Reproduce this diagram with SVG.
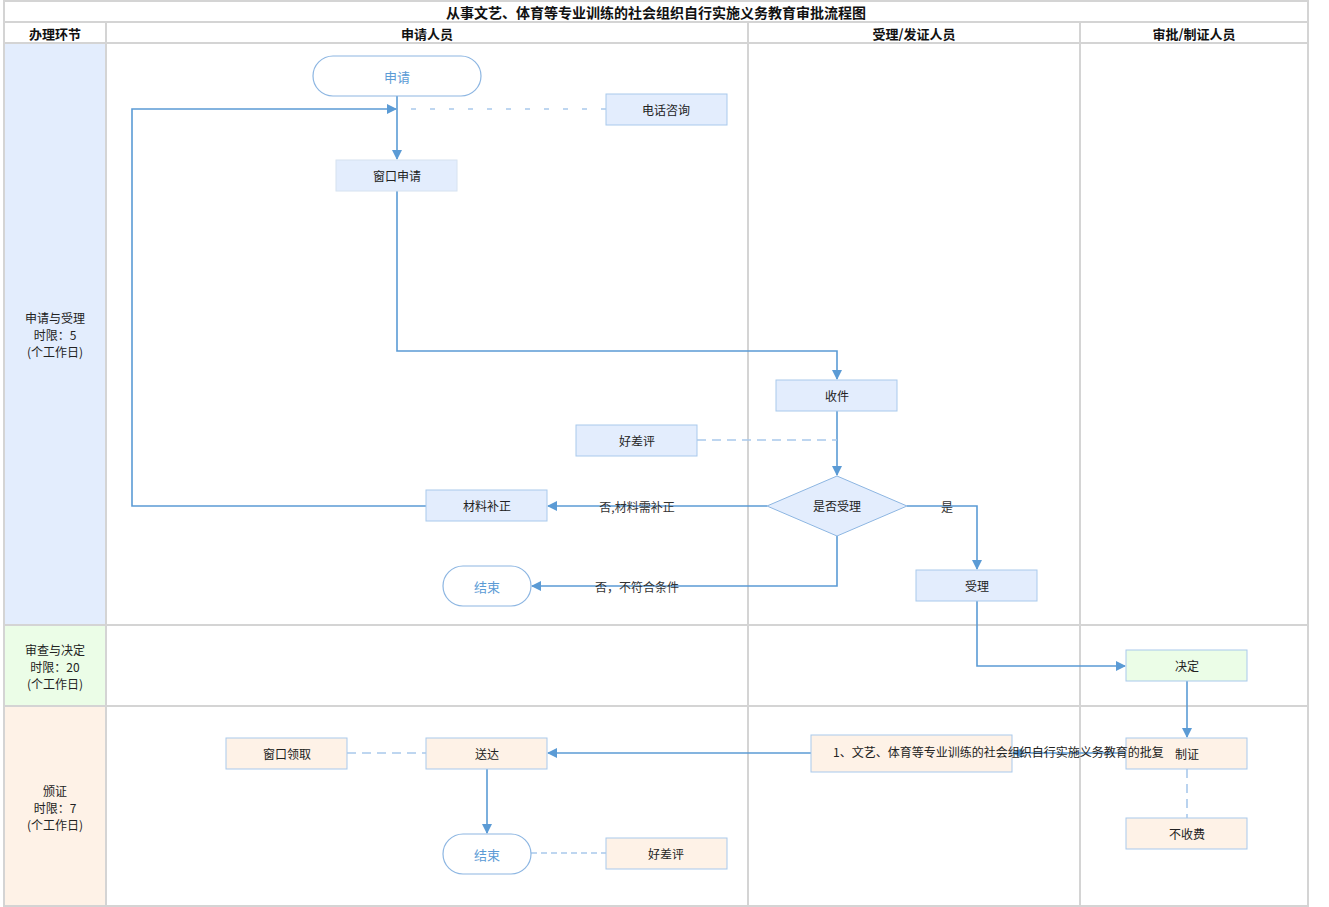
<svg xmlns="http://www.w3.org/2000/svg" width="1329" height="907" viewBox="0 0 1329 907">
<defs>
<marker id="ah" viewBox="0 0 10 10" refX="9" refY="5" markerWidth="10" markerHeight="10" markerUnits="userSpaceOnUse" orient="auto">
<path d="M0,0 L10,5 L0,10 z" fill="#5b9bd5"/>
</marker>
<style>
text{font-family:"Noto Sans CJK SC","Liberation Sans",sans-serif;font-size:12px;fill:#222;dominant-baseline:central;text-anchor:middle}
.grid{stroke:#d4d4d4;stroke-width:2;fill:none}
.hd{font-weight:bold;font-size:13px;fill:#111}
.tt{font-weight:bold;font-size:14px;fill:#111}
.b{fill:#e3edfd;stroke:#a9c9ec;stroke-width:1}
.g{fill:#ebfde7;stroke:#a9c9ec;stroke-width:1}
.o{fill:#fef2e7;stroke:#a9c9ec;stroke-width:1}
.pill{fill:#fff;stroke:#8db6e2;stroke-width:1.2}
.pt{fill:#5b9bd5;font-size:13px}
.ln{stroke:#5b9bd5;stroke-width:1.6;fill:none}
.dl{stroke:#a9c9ec;stroke-width:1.6;fill:none;stroke-dasharray:9,6}
.lb{fill:#333}
</style>
</defs>
<rect x="0" y="0" width="1329" height="907" fill="#fff"/>
<g id="lanes">
<rect x="4" y="43" width="102" height="582" fill="#e3edfd"/>
<rect x="4" y="625" width="102" height="81" fill="#ebfde7"/>
<rect x="4" y="706" width="102" height="200" fill="#fef2e7"/>
<rect class="grid" x="4" y="1" width="1304" height="905"/>
<line class="grid" x1="4" y1="22" x2="1308" y2="22"/>
<line class="grid" x1="4" y1="43" x2="1308" y2="43"/>
<line class="grid" x1="4" y1="625" x2="1308" y2="625"/>
<line class="grid" x1="4" y1="706" x2="1308" y2="706"/>
<line class="grid" x1="106" y1="22" x2="106" y2="906"/>
<line class="grid" x1="748" y1="22" x2="748" y2="906"/>
<line class="grid" x1="1080" y1="22" x2="1080" y2="906"/>
<text class="tt" x="656" y="12">从事文艺、体育等专业训练的社会组织自行实施义务教育审批流程图</text>
<text class="hd" x="55" y="33">办理环节</text>
<text class="hd" x="427" y="33">申请人员</text>
<text class="hd" x="914" y="33">受理/发证人员</text>
<text class="hd" x="1194" y="33">审批/制证人员</text>
<text x="55" y="317">申请与受理</text>
<text x="55" y="334">时限：5</text>
<text x="55" y="351">(个工作日)</text>
<text x="55" y="649">审查与决定</text>
<text x="55" y="666">时限：20</text>
<text x="55" y="683">(个工作日)</text>
<text x="55" y="790">颁证</text>
<text x="55" y="807">时限：7</text>
<text x="55" y="824">(个工作日)</text>
</g>
<g id="connectors">
<path class="dl" d="M606,109 H397" style="stroke-dasharray:5,14"/>
<path class="ln" d="M397,96 V159" marker-end="url(#ah)"/>
<path class="ln" d="M426,506 H132 V109 H396" marker-end="url(#ah)"/>
<path class="ln" d="M397,191 V351 H837 V379" marker-end="url(#ah)"/>
<path class="ln" d="M837,411 V475" marker-end="url(#ah)"/>
<path class="dl" d="M697,440 H837"/>
<path class="ln" d="M767,506 H548" marker-end="url(#ah)"/>
<path class="ln" d="M837,536 V586 H532" marker-end="url(#ah)"/>
<path class="ln" d="M907,506 H977 V569" marker-end="url(#ah)"/>
<path class="ln" d="M977,601 V666 H1125" marker-end="url(#ah)"/>
<path class="ln" d="M1187,681 V737" marker-end="url(#ah)"/>
<path class="ln" d="M1126,753 H1013" marker-end="url(#ah)"/>
<path class="ln" d="M811,753 H548" marker-end="url(#ah)"/>
<path class="dl" d="M347,753 H426"/>
<path class="ln" d="M487,769 V833" marker-end="url(#ah)"/>
<path class="dl" d="M531,853 H606" style="stroke-dasharray:6,4"/>
<path class="dl" d="M1187,769 V818"/>
<text class="lb" x="637" y="506">否,材料需补正</text>
<text class="lb" x="637" y="586">否，不符合条件</text>
<text class="lb" x="947" y="506">是</text>
</g>
<g id="n_apply"><rect class="pill" x="313" y="56" width="168" height="40" rx="20"/><text class="pt" x="397" y="76">申请</text></g>
<g id="n_phone"><rect class="b" x="606" y="94" width="121" height="31"/><text x="666" y="109">电话咨询</text></g>
<g id="n_window"><rect class="b" x="336" y="160" width="121" height="31" style="stroke:#d6e2f0"/><text x="397" y="175">窗口申请</text></g>
<g id="n_receive"><rect class="b" x="776" y="380" width="121" height="31"/><text x="837" y="395">收件</text></g>
<g id="n_eval1"><rect class="b" x="576" y="425" width="121" height="31"/><text x="637" y="440">好差评</text></g>
<g id="n_decide"><path class="b" d="M837,476 L907,506 L837,536 L767,506 z" style="stroke:#8db6e2"/><text x="837" y="505">是否受理</text></g>
<g id="n_supp"><rect class="b" x="426" y="490" width="121" height="31"/><text x="487" y="505">材料补正</text></g>
<g id="n_end1"><rect class="pill" x="443" y="566" width="88" height="40" rx="20"/><text class="pt" x="487" y="586">结束</text></g>
<g id="n_accept"><rect class="b" x="916" y="570" width="121" height="31"/><text x="977" y="585">受理</text></g>
<g id="n_decision"><rect class="g" x="1126" y="650" width="121" height="31"/><text x="1187" y="665">决定</text></g>
<g id="n_make"><rect class="o" x="1126" y="738" width="121" height="31"/><text x="1187" y="753">制证</text></g>
<g id="n_nofee"><rect class="o" x="1126" y="818" width="121" height="31"/><text x="1187" y="833">不收费</text></g>
<g id="n_doc"><rect class="o" x="811" y="735" width="201" height="37"/><text x="833" y="751" style="text-anchor:start">1、文艺、体育等专业训练的社会组织自行实施义务教育的批复</text></g>
<g id="n_deliver"><rect class="o" x="426" y="738" width="121" height="31"/><text x="487" y="753">送达</text></g>
<g id="n_pickup"><rect class="o" x="226" y="738" width="121" height="31"/><text x="287" y="753">窗口领取</text></g>
<g id="n_end2"><rect class="pill" x="443" y="834" width="88" height="40" rx="20"/><text class="pt" x="487" y="854">结束</text></g>
<g id="n_eval2"><rect class="o" x="606" y="838" width="121" height="31"/><text x="666" y="853">好差评</text></g>
</svg>
